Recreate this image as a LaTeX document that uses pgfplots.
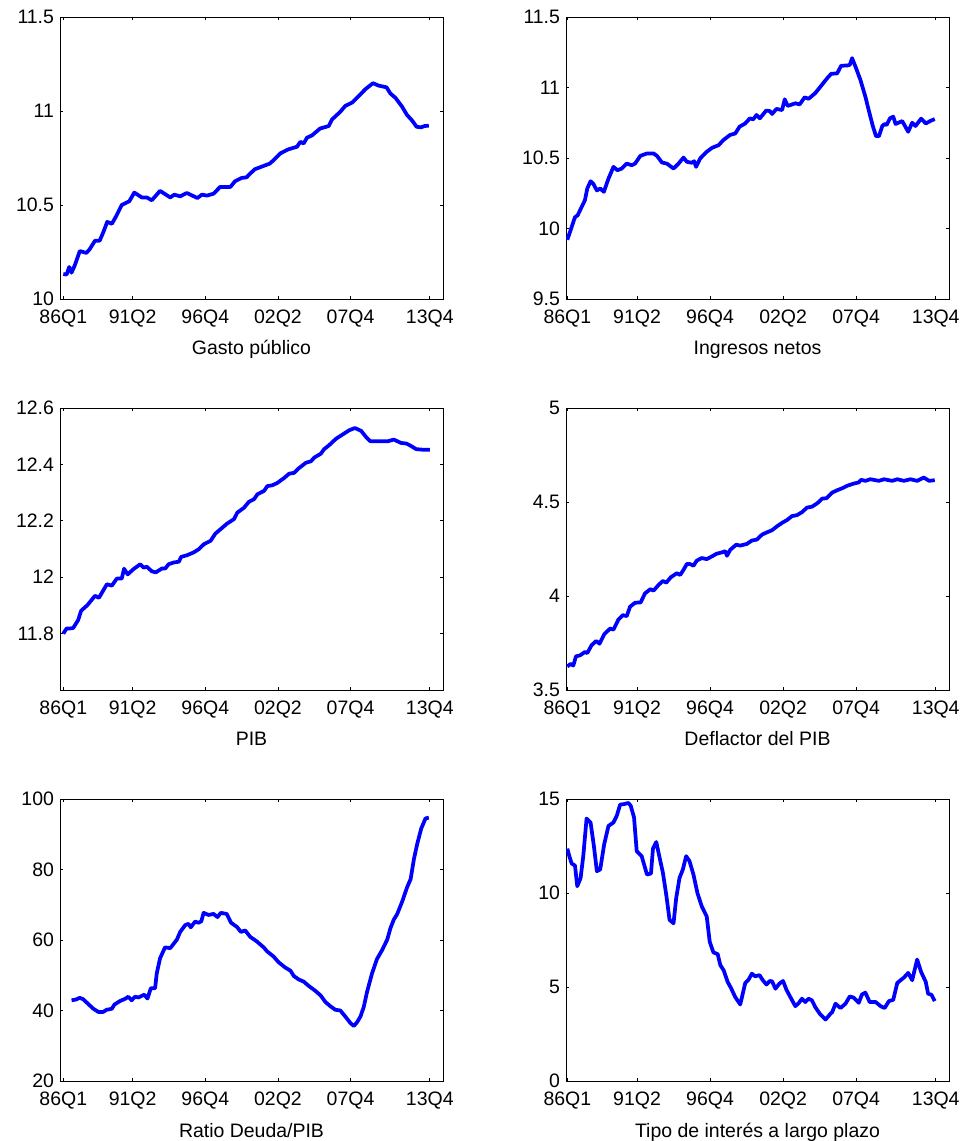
\documentclass[border=0pt]{standalone}
\usepackage{fontspec}
\setmainfont{Liberation Sans}
\usepackage{pgfplots}
\pgfplotsset{compat=1.18}

\newcommand{\fs}{\fontsize{14.6}{17}\selectfont}

\pgfplotsset{
  panel/.style={
    scale only axis,
    width=287.25pt, height=211.5pt,
    anchor=south west,
    xmin=0, xmax=116,
    xtick={1,22,44,66,88,112},
    xticklabels={86Q1,91Q2,96Q4,02Q2,07Q4,13Q4},
    tick align=inside, tick pos=both,
    major tick length=2.5pt,
    axis line style={line width=0.6pt},
    every tick/.style={black, line width=0.6pt},
    /pgf/number format/assume math mode=true,
    ticklabel style={font=\fs},
    xticklabel style={yshift=-4.5pt},
    yticklabel style={xshift=-1pt},
    xlabel style={at={(axis description cs:0.5,0)}, anchor=base, yshift=-42pt, font=\fs},
  },
  serie/.style={color=blue, line width=2.8pt, line join=round, mark=none},
}

\begin{document}
\begin{tikzpicture}
\path[use as bounding box] (0,0) rectangle (723.75pt,855.75pt);

% Gasto publico
\begin{axis}[panel, at={(45pt,631.5pt)},
  ymin=10, ymax=11.5, ytick={10,10.5,11,11.5}, yticklabels={10,10.5,11,11.5},
  xlabel={Gasto público}]
\addplot[serie] coordinates {(1,10.133)(2,10.13)(2.8,10.17)(3.5,10.14)(4.5,10.18)(6,10.255)(8,10.245)(9,10.265)(10.6,10.31)(12,10.31)(13,10.35)(14.3,10.41)(15.7,10.40)(17,10.44)(18.7,10.50)(21,10.52)(22.5,10.566)(24.8,10.54)(26.3,10.54)(27.8,10.525)(30.3,10.575)(33.4,10.54)(34.6,10.555)(36.4,10.546)(38.4,10.564)(41.6,10.537)(43,10.555)(44.5,10.55)(46.5,10.56)(48.5,10.596)(51.6,10.596)(53,10.626)(55,10.644)(56.5,10.647)(57.6,10.667)(59,10.69)(62,10.71)(63.5,10.72)(64.7,10.738)(66.7,10.774)(69,10.795)(71.8,10.81)(72.8,10.836)(73.8,10.827)(74.8,10.858)(76.3,10.87)(78.8,10.907)(81.4,10.92)(82.4,10.955)(84.9,10.996)(86.4,11.027)(88.5,11.045)(90.5,11.08)(92.5,11.116)(94.8,11.148)(96.5,11.135)(98.9,11.126)(100,11.094)(101.6,11.07)(103.6,11.023)(105.1,10.979)(106.7,10.948)(108,10.916)(109.4,10.913)(110.4,10.92)(111.7,10.922)};
\end{axis}

% Ingresos netos
\begin{axis}[panel, at={(424.5pt,631.5pt)}, xmin=0.6,
  ymin=9.5, ymax=11.5, ytick={9.5,10,10.5,11,11.5}, yticklabels={9.5,10,10.5,11,11.5},
  xlabel={Ingresos netos}]
\addplot[serie] coordinates {(1,9.92)(2.3,10.01)(3.3,10.08)(4.1,10.093)(5.3,10.152)(6.3,10.2)(7,10.283)(8,10.335)(8.8,10.318)(9.9,10.27)(10.9,10.283)(12,10.26)(13.4,10.354)(14.9,10.437)(16.1,10.413)(17.4,10.425)(18.9,10.46)(20.4,10.449)(21.4,10.46)(23,10.515)(25,10.532)(27,10.532)(28,10.515)(29.5,10.468)(31,10.46)(33,10.425)(34.5,10.46)(36,10.503)(37,10.473)(38.5,10.466)(39.2,10.477)(39.8,10.437)(41,10.496)(43,10.544)(44.6,10.572)(46.6,10.591)(48,10.627)(50,10.663)(51.6,10.674)(52.9,10.722)(54.6,10.745)(56,10.781)(57,10.774)(58,10.805)(59,10.781)(60.9,10.836)(62,10.833)(62.7,10.812)(64,10.848)(65.7,10.84)(66.5,10.916)(67.4,10.869)(69.7,10.888)(71,10.88)(72.5,10.93)(73.7,10.92)(75.7,10.96)(77.3,11.007)(79.3,11.066)(80.5,11.097)(82.3,11.1)(83.5,11.154)(85.3,11.156)(86.1,11.16)(86.8,11.208)(87.8,11.149)(89.3,11.054)(90.8,10.935)(91.8,10.84)(93,10.73)(94,10.655)(94.9,10.655)(95.9,10.727)(96.6,10.741)(97.2,10.734)(98.2,10.781)(99.2,10.793)(99.9,10.741)(101.9,10.762)(103.7,10.686)(104.9,10.75)(105.9,10.727)(107.6,10.779)(109,10.745)(110.5,10.764)(111.7,10.776)};
\end{axis}

% PIB
\begin{axis}[panel, at={(45pt,338.25pt)},
  ymin=11.6, ymax=12.6, ytick={11.8,12,12.2,12.4,12.6}, yticklabels={11.8,12,12.2,12.4,12.6},
  xlabel={PIB}]
\addplot[serie] coordinates {(1,11.80)(2,11.818)(3,11.818)(4,11.82)(5.5,11.848)(6.4,11.881)(8.3,11.901)(10.6,11.934)(11.8,11.927)(14.2,11.975)(15.7,11.97)(17.2,11.995)(18.7,11.995)(19.4,12.03)(20.5,12.01)(22.3,12.029)(24.3,12.046)(25.3,12.034)(26.3,12.037)(27.8,12.021)(29,12.017)(30.9,12.031)(31.9,12.031)(32.9,12.046)(34.4,12.052)(36,12.055)(36.7,12.072)(38.5,12.078)(40.5,12.088)(42,12.099)(43.6,12.117)(45.6,12.129)(47.1,12.155)(49.1,12.175)(50.6,12.19)(52.7,12.206)(53.7,12.229)(55.7,12.246)(57.2,12.267)(58.8,12.277)(59.8,12.294)(61.8,12.306)(62.8,12.323)(64.3,12.326)(65.8,12.334)(67.9,12.352)(69.4,12.367)(70.9,12.37)(72.4,12.387)(74.5,12.406)(76,12.411)(77,12.424)(79,12.438)(80,12.454)(81.5,12.468)(83.6,12.491)(85.6,12.506)(87.6,12.521)(89.3,12.529)(91.2,12.519)(92.7,12.497)(94,12.482)(96.2,12.482)(99.3,12.482)(101.1,12.488)(103.3,12.476)(104.9,12.474)(105.9,12.468)(107.9,12.454)(110,12.452)(112,12.452)};
\end{axis}

% Deflactor del PIB
\begin{axis}[panel, at={(424.5pt,338.25pt)}, xmin=0.6,
  ymin=3.5, ymax=5, ytick={3.5,4,4.5,5}, yticklabels={3.5,4,4.5,5},
  xlabel={Deflactor del PIB}]
\addplot[serie] coordinates {(1,3.625)(2,3.639)(2.8,3.63)(3.6,3.679)(4.8,3.684)(6.3,3.702)(7,3.696)(8.3,3.738)(9.7,3.761)(10.7,3.746)(12.1,3.796)(13.9,3.827)(14.9,3.821)(16.4,3.875)(17.7,3.898)(18.9,3.893)(19.9,3.943)(21.4,3.964)(23.1,3.966)(24.4,4.014)(26,4.036)(27,4.029)(28.5,4.059)(29.8,4.08)(30.8,4.071)(32.2,4.1)(34,4.121)(35,4.112)(36,4.139)(37,4.17)(38,4.17)(39,4.161)(40,4.188)(41.5,4.202)(43,4.196)(44.6,4.211)(46,4.225)(47.6,4.232)(48.6,4.238)(49.1,4.214)(50.1,4.246)(51.9,4.273)(53.1,4.268)(55.1,4.277)(56.6,4.295)(58.1,4.3)(59.7,4.327)(61.2,4.339)(62.7,4.35)(64.2,4.371)(65.7,4.389)(67.2,4.404)(68.7,4.425)(70.2,4.43)(71.7,4.446)(73.2,4.47)(74.7,4.475)(76.3,4.493)(77.8,4.518)(79.1,4.52)(80.8,4.55)(82.3,4.5625)(83.8,4.573)(85.3,4.586)(87.3,4.598)(88.8,4.604)(89.5,4.618)(90.8,4.6125)(92.3,4.621)(94.9,4.6125)(96.4,4.621)(98.9,4.6125)(100.4,4.621)(102.4,4.6125)(104.4,4.621)(106.4,4.6125)(108.4,4.63)(110,4.6125)(111.7,4.616)};
\end{axis}

% Ratio Deuda/PIB
\begin{axis}[panel, at={(45pt,45pt)},
  ymin=20, ymax=100, ytick={20,40,60,80,100}, yticklabels={20,40,60,80,100},
  xlabel={Ratio Deuda/PIB}]
\addplot[serie] coordinates {(3.5,42.9)(4.8,43.1)(6,43.6)(7,43.2)(8.6,41.8)(10.1,40.5)(11.6,39.6)(13.1,39.6)(14.1,40.2)(15.7,40.5)(16.5,41.7)(18.2,42.7)(19.7,43.3)(20.7,43.9)(21.7,42.9)(22.7,43.9)(23.8,43.7)(25.5,44.5)(26.5,43.4)(27.5,46.3)(28.8,46.3)(29.3,50.5)(30.3,54.8)(31.8,57.9)(33.4,57.7)(34.4,58.9)(35.4,60.1)(36.4,62.3)(37.9,64.2)(38.9,64.6)(39.6,63.6)(40.9,65.2)(42,64.9)(42.8,65.3)(43.5,67.7)(45,67.1)(46.5,67.4)(47.7,66.5)(48.7,67.7)(50.5,67.4)(51.8,64.9)(53.6,63.7)(54.8,62.3)(56.1,62.7)(57.6,60.9)(59.6,59.6)(61.7,57.9)(62.7,56.8)(64.7,55.3)(66.2,53.7)(68.2,52.2)(69.8,51.3)(70.8,49.8)(72.3,48.8)(73.8,48.2)(75.3,47.0)(77.3,45.6)(78.9,44.3)(80.4,42.4)(81.9,41.2)(83.4,40.2)(84.9,40.0)(86.4,38.3)(88,36.4)(89,35.6)(90,36.7)(91,38.3)(92,41.0)(93,45.3)(94.5,50.5)(96,54.6)(97.6,57.2)(99.1,60.1)(100.1,63.4)(101.1,65.8)(102.1,67.3)(103.6,70.8)(105.1,74.9)(106.2,77.3)(107.2,83.0)(108.2,87.3)(109.4,91.6)(110.7,94.5)(111.7,94.7)};
\end{axis}

% Tipo de interes a largo plazo
\begin{axis}[panel, at={(424.5pt,45pt)}, xmin=0.6,
  ymin=0, ymax=15, ytick={0,5,10,15}, yticklabels={0,5,10,15},
  xlabel={Tipo de interés a largo plazo}]
\addplot[serie] coordinates {(1,12.36)(1.6,11.96)(2.3,11.57)(3.3,11.46)(4,10.36)(5,10.8)(5.8,11.96)(6.8,13.96)(8,13.75)(9,12.5)(9.9,11.16)(10.9,11.25)(12.1,12.59)(13.4,13.57)(14.9,13.75)(15.9,14.11)(16.9,14.7)(18.1,14.73)(19.4,14.79)(20.1,14.64)(21.1,14.02)(21.9,12.23)(23.4,11.96)(25,10.98)(26.2,11.04)(26.8,12.36)(27.8,12.71)(28.8,11.88)(29.8,11.07)(30.8,9.91)(31.8,8.57)(33,8.39)(33.8,9.73)(34.8,10.8)(35.8,11.25)(36.8,11.96)(37.8,11.7)(39,10.98)(40.2,10)(41.5,9.29)(43,8.75)(43.9,7.41)(45,6.84)(46.3,6.75)(47.1,6.16)(48.1,5.89)(49.3,5.27)(50.3,4.95)(51.6,4.46)(53.1,4.07)(54.6,5.21)(55.6,5.39)(56.6,5.71)(57.6,5.57)(58.9,5.63)(59.9,5.36)(61,5.13)(62,5.32)(62.7,5.3)(63.7,4.91)(64.9,5.18)(66,5.32)(67,4.86)(68.2,4.46)(69.7,3.98)(70.7,4.14)(71.7,4.38)(72.7,4.2)(73.7,4.38)(74.7,4.29)(75.7,3.93)(77.1,3.57)(78.8,3.27)(80.1,3.54)(80.8,3.66)(81.8,4.11)(83.3,3.88)(84.8,4.11)(86.1,4.5)(87.3,4.43)(88.8,4.16)(89.8,4.61)(90.8,4.7)(92.1,4.2)(93.9,4.2)(95.4,3.98)(96.6,3.88)(97.9,4.25)(99.2,4.32)(100.4,5.21)(101.4,5.36)(102.4,5.5)(103.7,5.75)(104.9,5.36)(106.4,6.46)(107.6,5.8)(109,5.27)(109.7,4.64)(110.7,4.59)(111.7,4.25)};
\end{axis}
\end{tikzpicture}
\end{document}
